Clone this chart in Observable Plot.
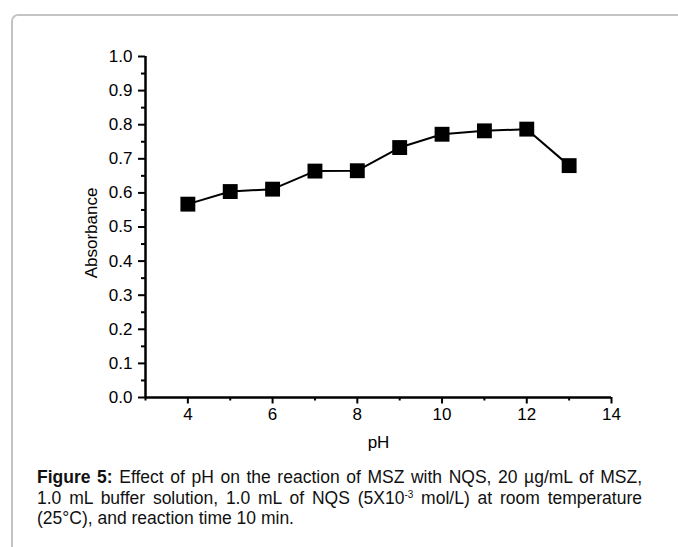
<!DOCTYPE html>
<html>
<head>
<meta charset="utf-8">
<script src="https://cdn.jsdelivr.net/npm/d3@7"></script>
<script src="https://cdn.jsdelivr.net/npm/@observablehq/plot@0.6"></script>
<style>
  html, body { margin: 0; padding: 0; background: #fff; }
  body { width: 678px; height: 547px; position: relative; overflow: hidden; font-family: "Liberation Sans", Arial, sans-serif; }
  #frame { position: absolute; left: 11px; top: 14px; width: 720px; height: 600px;
           border-left: 2px solid #c4c4c4; border-top: 2px solid #c4c4c4; border-top-left-radius: 7px; }
  #chart { position: absolute; left: 0; top: 0; }
  #caption { position: absolute; left: 37px; top: 467px; width: 605px; font-size: 17.5px; line-height: 20.5px; color: #111; }
  #caption .ln { text-align: justify; text-align-last: justify; white-space: nowrap; }
  #caption .ln.last { text-align-last: left; }
  #caption sup { font-size: 10px; vertical-align: 6px; line-height: 0; }
</style>
</head>
<body>
<div id="frame"></div>
<div id="chart"></div>
<div id="caption">
  <div class="ln"><b>Figure 5:</b> Effect of pH on the reaction of MSZ with NQS, 20 µg/mL of MSZ,</div>
  <div class="ln">1.0 mL buffer solution, 1.0 mL of NQS (5X10<sup>-3</sup> mol/L) at room temperature</div>
  <div class="ln last">(25°C), and reaction time 10 min.</div>
</div>
<script>
const pH = [4, 5, 6, 7, 8, 9, 10, 11, 12, 13];
const absorbance = [0.567, 0.604, 0.611, 0.664, 0.665, 0.733, 0.772, 0.782, 0.787, 0.680];
const xTicks = [4, 6, 8, 10, 12, 14];
const xMinor = [3, 5, 7, 9, 11, 13];
const yTicks = [0, 0.1, 0.2, 0.3, 0.4, 0.5, 0.6, 0.7, 0.8, 0.9, 1.0];
const yMinor = [0.05, 0.15, 0.25, 0.35, 0.45, 0.55, 0.65, 0.75, 0.85, 0.95];
const xLabel = "pH";
const yLabel = "Absorbance";

const data = pH.map((x, i) => ({x, y: absorbance[i]}));

const chart = Plot.plot({
  width: 678,
  height: 460,
  marginLeft: 145,
  marginRight: 67,
  marginTop: 56,
  marginBottom: 63,
  x: {domain: [3, 14]},
  y: {domain: [0, 1]},
  style: {fontFamily: "'Liberation Sans', Arial, sans-serif", fontSize: "17px", color: "#000", background: "transparent", overflow: "visible"},
  marks: [
    Plot.axisX({ticks: xMinor, tickSize: 3.5, text: null, label: null, strokeWidth: 2}),
    Plot.axisX({ticks: xTicks, tickSize: 6.5, tickPadding: 4, label: null, strokeWidth: 2, tickFormat: d => String(d)}),
    Plot.axisY({ticks: yMinor, tickSize: 4, text: null, label: null, strokeWidth: 2}),
    Plot.axisY({ticks: yTicks, tickSize: 7, tickPadding: 6, label: null, strokeWidth: 2, tickFormat: d3.format(".1f")}),
    Plot.ruleX([3], {strokeWidth: 2.5}),
    Plot.ruleY([0], {strokeWidth: 2.5}),
    Plot.line(data, {x: "x", y: "y", stroke: "#000", strokeWidth: 2}),
    Plot.dot(data, {x: "x", y: "y", symbol: "square", r: 8.4, fill: "#000", stroke: null}),
    Plot.text([xLabel], {frameAnchor: "bottom", dy: 50, fontSize: 17}),
    Plot.text([yLabel], {frameAnchor: "left", textAnchor: "middle", lineAnchor: "middle", dx: -54, dy: 6, rotate: -90, fontSize: 17})
  ]
});
document.getElementById("chart").appendChild(chart);
</script>
</body>
</html>
